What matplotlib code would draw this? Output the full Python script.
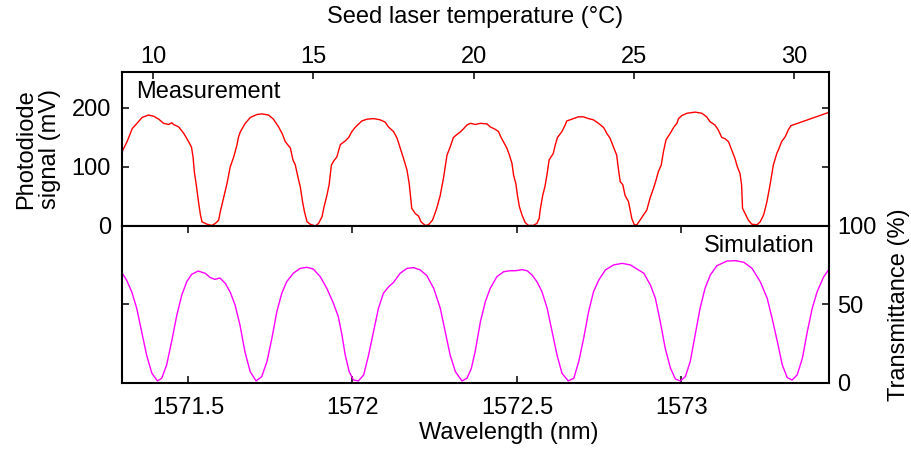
import matplotlib
matplotlib.use("Agg")
import matplotlib.pyplot as plt

plt.rcParams['font.family'] = ['Liberation Sans', 'DejaVu Sans']
plt.rcParams['font.size'] = 17

# ---- Measurement (top panel): photodiode signal vs seed laser temperature ----
temp_C = [
    9.02, 9.05, 9.18, 9.34, 9.49, 9.65, 9.85, 10.01, 10.17, 10.32,
    10.48, 10.58, 10.63, 10.79, 10.95, 11.10, 11.19, 11.24, 11.28, 11.34,
    11.41, 11.47, 11.52, 11.68, 11.83, 11.94, 12.04, 12.09, 12.19, 12.30,
    12.40, 12.51, 12.61, 12.66, 12.72, 12.87, 13.03, 13.24, 13.39, 13.60,
    13.75, 13.91, 14.02, 14.12, 14.28, 14.36, 14.43, 14.54, 14.59, 14.66,
    14.72, 14.80, 14.90, 15.06, 15.16, 15.27, 15.32, 15.42, 15.49, 15.56,
    15.63, 15.73, 15.84, 15.99, 16.10, 16.20, 16.30, 16.51, 16.67, 16.88,
    17.08, 17.24, 17.34, 17.50, 17.61, 17.71, 17.81, 17.92, 17.99, 18.07,
    18.18, 18.28, 18.36, 18.49, 18.59, 18.72, 18.85, 18.96, 19.06, 19.17,
    19.27, 19.37, 19.48, 19.58, 19.69, 19.79, 19.90, 20.06, 20.21, 20.42,
    20.52, 20.67, 20.78, 20.85, 20.93, 21.04, 21.12, 21.20, 21.25, 21.32,
    21.37, 21.43, 21.51, 21.61, 21.71, 21.87, 21.98, 22.05, 22.08, 22.16,
    22.23, 22.29, 22.36, 22.49, 22.55, 22.62, 22.76, 22.86, 22.91, 23.07,
    23.27, 23.43, 23.59, 23.74, 23.90, 24.06, 24.16, 24.26, 24.37, 24.47,
    24.52, 24.58, 24.66, 24.73, 24.84, 24.89, 24.94, 25.02, 25.10, 25.20,
    25.31, 25.41, 25.51, 25.62, 25.70, 25.77, 25.86, 25.93, 26.01, 26.14,
    26.26, 26.35, 26.40, 26.50, 26.66, 26.92, 27.13, 27.28, 27.38, 27.54,
    27.64, 27.75, 27.85, 27.96, 28.06, 28.16, 28.24, 28.32, 28.37, 28.40,
    28.48, 28.58, 28.69, 28.85, 28.95, 29.06, 29.16, 29.26, 29.36, 29.47,
    29.52, 29.62, 29.73, 29.83, 29.91, 31.12,
]
signal_mV = [
    124, 129, 143, 165, 174, 184, 188, 186, 181, 174,
    172, 175, 172, 168, 157, 143, 134, 117, 92, 70,
    41, 19, 7, 3, 1, 4.5, 10, 24, 47, 72,
    100, 117, 137, 151, 160, 174, 184, 189, 190, 188,
    181, 168, 157, 143, 132, 112, 104, 77, 66, 41,
    24, 7, 3, 0, 4.5, 16, 30, 52, 70, 103,
    110, 117, 138, 144, 150, 160, 167, 178, 181, 182,
    180, 176, 168, 160, 149, 132, 115, 95, 72, 30,
    21, 17, 7, 1, 2, 10, 30, 52, 81, 120,
    134, 150, 155, 159, 165, 171, 174, 172, 174, 173,
    168, 164, 160, 151, 143, 132, 120, 106, 86, 72,
    52, 33, 19, 6, 1, 1, 4.5, 13, 27, 52,
    67, 86, 112, 123, 137, 150, 160, 171, 178, 181,
    185, 185, 182, 180, 174, 167, 157, 149, 134, 120,
    98, 75, 70, 52, 41, 27, 13, 2, 2, 10,
    19, 27, 47, 64, 78, 92, 103, 126, 146, 157,
    168, 174, 182, 187, 191, 193, 191, 185, 177, 171,
    163, 150, 148, 143, 129, 115, 100, 89, 70, 30,
    21, 10, 3, 2, 7, 19, 41, 70, 103, 123,
    129, 143, 151, 163, 170, 193,
]

# ---- Simulation (bottom panel): transmittance vs wavelength ----
wavelength_nm = [
    1571.298, 1571.313, 1571.329, 1571.344, 1571.359, 1571.374, 1571.390, 1571.407, 1571.420, 1571.435,
    1571.450, 1571.466, 1571.481, 1571.496, 1571.511, 1571.531, 1571.552, 1571.567, 1571.582, 1571.597,
    1571.613, 1571.628, 1571.643, 1571.658, 1571.673, 1571.689, 1571.707, 1571.724, 1571.740, 1571.755,
    1571.770, 1571.785, 1571.800, 1571.820, 1571.841, 1571.861, 1571.881, 1571.902, 1571.922, 1571.942,
    1571.957, 1571.968, 1571.978, 1571.990, 1572.003, 1572.018, 1572.034, 1572.049, 1572.064, 1572.079,
    1572.094, 1572.110, 1572.125, 1572.145, 1572.166, 1572.186, 1572.206, 1572.226, 1572.247, 1572.267,
    1572.282, 1572.297, 1572.313, 1572.333, 1572.348, 1572.361, 1572.373, 1572.389, 1572.404, 1572.419,
    1572.439, 1572.460, 1572.480, 1572.495, 1572.516, 1572.531, 1572.546, 1572.561, 1572.576, 1572.592,
    1572.607, 1572.622, 1572.637, 1572.656, 1572.673, 1572.688, 1572.703, 1572.718, 1572.733, 1572.749,
    1572.769, 1572.794, 1572.820, 1572.845, 1572.865, 1572.886, 1572.906, 1572.921, 1572.936, 1572.951,
    1572.967, 1572.982, 1572.997, 1573.012, 1573.027, 1573.042, 1573.057, 1573.072, 1573.088, 1573.108,
    1573.139, 1573.165, 1573.190, 1573.215, 1573.240, 1573.261, 1573.276, 1573.292, 1573.307, 1573.322,
    1573.337, 1573.352, 1573.368, 1573.383, 1573.398, 1573.413, 1573.433, 1573.454,
]
transmittance_pct = [
    70.5, 65.6, 58.0, 47.6, 32.7, 17.8, 6.2, 1.3, 3.0, 11.5,
    26.3, 43.3, 56.0, 64.5, 69.2, 71.3, 69.9, 67.2, 66.0, 66.9,
    63.5, 58.0, 49.7, 36.9, 19.9, 7.2, 1.3, 4.0, 13.6, 28.5,
    45.4, 57.1, 64.5, 69.9, 73.0, 73.7, 72.6, 67.7, 60.3, 50.8,
    42.2, 30.6, 17.8, 7.2, 1.9, 1.3, 5.1, 17.8, 32.7, 47.6,
    57.1, 61.3, 64.1, 69.9, 73.0, 73.5, 72.0, 68.4, 60.3, 47.6,
    32.7, 17.8, 7.2, 1.3, 3.0, 9.0, 19.9, 39.0, 51.8, 60.3,
    67.7, 70.9, 71.5, 71.5, 72.2, 71.5, 68.8, 64.5, 58.2, 47.6,
    32.7, 17.8, 6.2, 1.3, 3.0, 13.6, 28.5, 45.4, 58.2, 65.6,
    72.0, 75.2, 76.2, 75.2, 72.6, 69.9, 62.4, 54.0, 39.0, 22.1,
    9.4, 2.5, 1.3, 4.0, 13.6, 30.6, 47.6, 60.3, 68.8, 74.7,
    77.7, 77.9, 76.9, 73.0, 64.5, 54.0, 41.2, 26.3, 11.5, 3.4,
    1.9, 5.1, 15.7, 32.7, 47.6, 58.2, 67.7, 74.0,
]

# ---- Tick values / labels ----
temp_ticks = [10, 15, 20, 25, 30]
signal_ticks = [0, 100, 200]
wl_ticks = [1571.5, 1572, 1572.5, 1573]
wl_labels = ['1571.5', '1572', '1572.5', '1573']
trans_ticks = [0, 50, 100]
trans_labels = ['0', '50', '100']

fig = plt.figure(figsize=(9.12, 4.51), dpi=100)
ax1 = fig.add_axes([0.1338, 0.4989, 0.7752, 0.3415])
ax2 = fig.add_axes([0.1338, 0.1508, 0.7752, 0.3481])

spine_w = 1.5
tick_kw = dict(direction='in', length=5, width=1.1, labelsize=17)

# Top panel
ax1.plot(temp_C, signal_mV, color='#ff0000', lw=1.0)
ax1.set_xlim(9.022, 31.10)
ax1.set_ylim(0, 261)
ax1.set_xticks(temp_ticks)
ax1.set_xticklabels([str(t) for t in temp_ticks])
ax1.set_yticks(signal_ticks)
ax1.set_yticklabels([str(s) for s in signal_ticks])
ax1.tick_params(axis='x', top=True, bottom=False, labeltop=True,
                labelbottom=False, pad=3, **tick_kw)
ax1.tick_params(axis='y', left=True, right=True, labelleft=True,
                labelright=False, pad=8, **tick_kw)
ax1.xaxis.set_label_position('top')
ax1.set_xlabel('Seed laser temperature (°C)', fontsize=17)
ax1.xaxis.set_label_coords(0.5, 1.315)
ax1.set_ylabel('Photodiode\nsignal (mV)', fontsize=17, linespacing=1.1)
ax1.yaxis.set_label_coords(-0.087, 0.5)
ax1.text(0.02, 0.87, 'Measurement', transform=ax1.transAxes,
         ha='left', va='center', fontsize=17)

# Bottom panel
ax2.plot(wavelength_nm, transmittance_pct, color='#ff00ff', lw=1.0)
ax2.set_xlim(1571.2993, 1573.449)
ax2.set_ylim(0, 100)
ax2.set_xticks(wl_ticks)
ax2.set_xticklabels(wl_labels)
ax2.set_yticks(trans_ticks)
ax2.set_yticklabels(trans_labels)
ax2.tick_params(axis='x', top=True, bottom=True, labeltop=False,
                labelbottom=True, pad=10, **tick_kw)
ax2.tick_params(axis='y', left=True, right=True, labelleft=False,
                labelright=True, pad=6, **tick_kw)
ax2.set_xlabel('Wavelength (nm)', fontsize=17)
ax2.xaxis.set_label_coords(0.547, -0.25)
ax2.yaxis.set_label_position('right')
ax2.set_ylabel('Transmittance (%)', fontsize=17)
ax2.yaxis.set_label_coords(1.083, 0.5)
ax2.text(0.98, 0.873, 'Simulation', transform=ax2.transAxes,
         ha='right', va='center', fontsize=17)

for ax in (ax1, ax2):
    for s in ax.spines.values():
        s.set_linewidth(spine_w)

fig.savefig('out.png', dpi=100)
